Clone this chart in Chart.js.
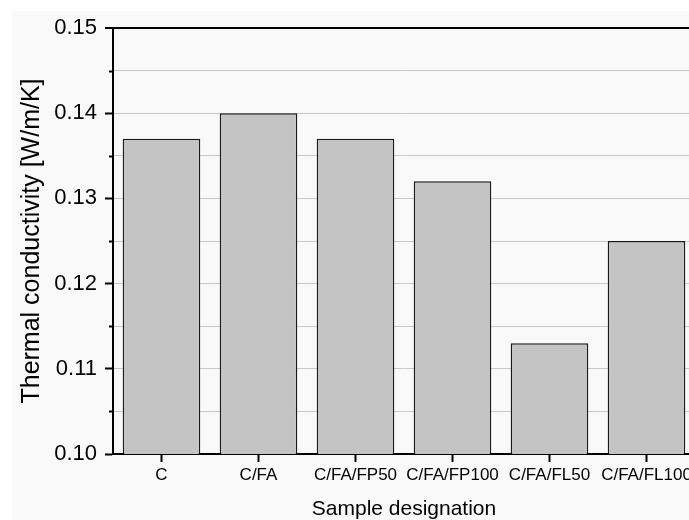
<!DOCTYPE html>
<html>
<head>
<meta charset="utf-8">
<script src="https://cdn.jsdelivr.net/npm/chart.js@4"></script>
<style>
  html, body { margin: 0; padding: 0; overflow: hidden; background: #fff; }
  #bg { position: absolute; left: 12px; top: 11px; width: 700px; height: 520px; background: #f9f9f9; }
  #wrap { position: absolute; left: 0; top: 0; width: 695px; height: 520px; }
</style>
</head>
<body>
<div id="bg"></div>
<div id="wrap"><canvas id="chart"></canvas></div>
<script>
// data
const categories = ["C", "C/FA", "C/FA/FP50", "C/FA/FP100", "C/FA/FL50", "C/FA/FL100"];
const conductivity = [0.137, 0.140, 0.137, 0.132, 0.113, 0.125];
const yMin = 0.10;
const yMax = 0.15;
const yStep = 0.005; // labelled every 0.01

const font = "'Liberation Sans', Arial, sans-serif";

// short minor ticks on the y axis (the labelled ones are drawn by Chart.js)
const minorTicks = {
  id: "minorTicks",
  afterDraw(chart) {
    const y = chart.scales.y;
    const c = chart.ctx;
    c.save();
    c.strokeStyle = "#000";
    c.lineWidth = 2;
    y.ticks.forEach((t, i) => {
      if (i % 2 === 1) {
        const py = Math.round(y.getPixelForTick(i)) + 0.5;
        c.beginPath();
        c.moveTo(y.right - 4, py);
        c.lineTo(y.right, py);
        c.stroke();
      }
    });
    c.restore();
  }
};

const ctx = document.getElementById("chart").getContext("2d");
new Chart(ctx, {
  type: "bar",
  data: {
    labels: categories,
    datasets: [{
      data: conductivity,
      backgroundColor: "#c4c4c4",
      borderColor: "#1a1a1a",
      borderWidth: 1.5,
      barPercentage: 0.8,
      categoryPercentage: 1.0
    }]
  },
  options: {
    responsive: true,
    maintainAspectRatio: false,
    animation: false,
    layout: { padding: { top: 28, right: 0, bottom: 0, left: 0 } },
    plugins: { legend: { display: false }, tooltip: { enabled: false } },
    scales: {
      x: {
        afterFit(scale) { scale.height = 66; },
        border: { color: "#000", width: 2 },
        grid: { offset: false, drawOnChartArea: false, drawTicks: true, tickLength: 8, tickColor: "#000", tickWidth: 2 },
        ticks: { color: "#000", font: { family: font, size: 17 }, padding: 3, maxRotation: 0, autoSkip: false },
        title: { display: true, text: "Sample designation", color: "#000",
                 font: { family: font, size: 21, lineHeight: 1.0 }, padding: { top: 0, bottom: 0 } }
      },
      y: {
        min: yMin,
        max: yMax,
        afterFit(scale) { scale.width = 113; },
        border: { color: "#000", width: 2 },
        grid: {
          color: c => c.index === 10 ? "#000" : "#c8c8c8",
          lineWidth: c => c.index === 10 ? 2 : 1,
          tickLength: 8,
          tickWidth: 2,
          tickColor: c => c.index % 2 === 0 ? "#000" : "rgba(0,0,0,0)"
        },
        ticks: {
          stepSize: yStep,
          color: "#000",
          padding: 8,
          font: { family: font, size: 22 },
          callback: (v, i) => i % 2 === 0 ? v.toFixed(2) : ""
        },
        title: { display: true, text: "Thermal conductivity [W/m/K]", color: "#000",
                 font: { family: font, size: 25 }, padding: { top: 17, bottom: 0 } }
      }
    }
  },
  plugins: [minorTicks]
});
</script>
</body>
</html>
